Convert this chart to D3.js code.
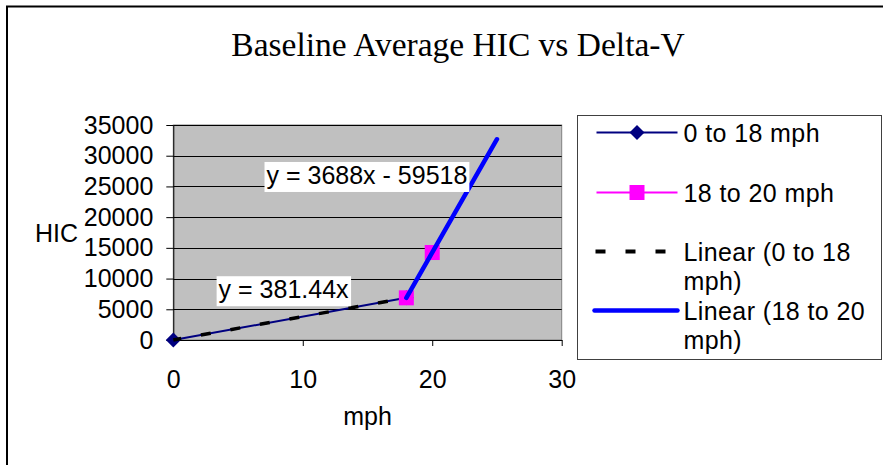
<!DOCTYPE html>
<html>
<head>
<meta charset="utf-8">
<script src="https://cdn.jsdelivr.net/npm/d3@7"></script>
<style>
	body { margin: 0; background: #fff; }
	svg text { font-family: 'Liberation Sans', Arial, sans-serif; fill: #000; }
</style>
</head>
<body>
<div id="my_dataviz"></div>
<script>
// data
const series1Mph = [ 0, 18 ];
const series1Hic = [ 0, 6866 ];
const series2Mph = [ 18, 20 ];
const series2Hic = [ 6866, 14242 ];
const trend1Mph = [ 0, 18 ];
const trend1Hic = [ 0, 6866 ];
const trend2Mph = [ 18, 25 ];
const trend2Hic = [ 6866, 32682 ];
const xTicks = [ 0, 10, 20, 30 ];
const yTicks = [ 0, 5000, 10000, 15000, 20000, 25000, 30000, 35000 ];
const legendLabels = [ [ '0 to 18 mph' ], [ '18 to 20 mph' ], [ 'Linear (0 to 18', 'mph)' ], [ 'Linear (18 to 20', 'mph)' ] ];
const eqLabels = [ 'y = 3688x - 59518', 'y = 381.44x' ];
const eqAnchors = [ [ 7.2, 25400 ], [ 3.5, 6800 ] ];

let dimensions = {
	width  : 883,
	height : 465,
	margin : {
		top    : 125,
		right  : 321.3,
		bottom : 125,
		left   : 173.3
	}
};
dimensions.boundedWidth = dimensions.width - dimensions.margin.left - dimensions.margin.right;
dimensions.boundedHeight = dimensions.height - dimensions.margin.top - dimensions.margin.bottom;

const svg = d3
	.select('#my_dataviz')
	.append('svg')
	.attr('width', dimensions.width)
	.attr('height', dimensions.height);

// chart frame (runs off right/bottom edge)
svg
	.append('rect')
	.attr('x', 7)
	.attr('y', 6.5)
	.attr('width', 900)
	.attr('height', 480)
	.attr('fill', 'none')
	.attr('stroke', '#000')
	.attr('stroke-width', 2);

svg
	.append('text')
	.attr('x', 458)
	.attr('y', 56)
	.attr('text-anchor', 'middle')
	.style('font-family', "'Liberation Serif', 'Times New Roman', serif")
	.style('font-size', '33.5px')
	.text('Baseline Average HIC vs Delta-V');

const bounds = svg
	.append('g')
	.attr('transform', `translate(${dimensions.margin.left}, ${dimensions.margin.top})`);

const x = d3.scaleLinear().domain([ 0, 30 ]).range([ 0, dimensions.boundedWidth ]);
const y = d3.scaleLinear().domain([ 0, 35000 ]).range([ dimensions.boundedHeight, 0 ]);

bounds
	.append('rect')
	.attr('width', dimensions.boundedWidth)
	.attr('height', dimensions.boundedHeight)
	.attr('fill', '#c0c0c0')
	.attr('stroke', '#808080')
	.attr('stroke-width', 1);

// gridlines
bounds
	.selectAll('.grid')
	.data(yTicks.slice(1))
	.enter()
	.append('line')
	.attr('class', 'grid')
	.attr('x1', 0)
	.attr('x2', dimensions.boundedWidth)
	.attr('y1', (d) => Math.round(y(d)) + 0.5)
	.attr('y2', (d) => Math.round(y(d)) + 0.5)
	.attr('stroke', '#000')
	.attr('stroke-width', 1);

// axes
const yAxisGenerator = d3
	.axisLeft(y)
	.tickValues(yTicks)
	.tickFormat(d3.format('d'))
	.tickSizeInner(7)
	.tickSizeOuter(0)
	.tickPadding(13);
const yAxis = bounds.append('g').attr('class', 'y axis').call(yAxisGenerator);
const xAxisGenerator = d3.axisBottom(x).tickValues(xTicks).tickSizeInner(6).tickSizeOuter(0).tickPadding(24);
const xAxis = bounds
	.append('g')
	.attr('class', 'x axis')
	.attr('transform', `translate(0, ${dimensions.boundedHeight})`)
	.call(xAxisGenerator);

[ yAxis, xAxis ].forEach(function(ax) {
	ax.selectAll('path').attr('stroke', '#000');
	ax.selectAll('line').attr('stroke', '#000');
	ax.selectAll('text').style('font-size', '25px').style('font-family', "'Liberation Sans', Arial, sans-serif");
});
xAxis.selectAll('text').attr('dy', '0.71em');

svg.append('text').attr('x', 35).attr('y', 242).style('font-size', '25px').text('HIC');
svg
	.append('text')
	.attr('x', dimensions.margin.left + dimensions.boundedWidth / 2)
	.attr('y', 425)
	.attr('text-anchor', 'middle')
	.style('font-size', '25px')
	.text('mph');

const line = d3.line().x((d) => x(d[0])).y((d) => y(d[1]));
const zipPts = (xs, ys) => xs.map((v, i) => [ v, ys[i] ]);

// series lines + markers
bounds
	.append('path')
	.datum(zipPts(series1Mph, series1Hic))
	.attr('d', line)
	.attr('fill', 'none')
	.attr('stroke', '#000080')
	.attr('stroke-width', 2);
bounds
	.append('path')
	.datum(zipPts(series2Mph, series2Hic))
	.attr('d', line)
	.attr('fill', 'none')
	.attr('stroke', '#ff00ff')
	.attr('stroke-width', 2);

const diamond = d3.symbol().type(d3.symbolSquare).size(112);
bounds
	.selectAll('.s1')
	.data(zipPts(series1Mph, series1Hic))
	.enter()
	.append('path')
	.attr('class', 's1')
	.attr('d', diamond)
	.attr('transform', (d) => `translate(${x(d[0])}, ${y(d[1])}) rotate(45)`)
	.attr('fill', '#000080');

bounds
	.selectAll('.s2')
	.data(zipPts(series2Mph, series2Hic))
	.enter()
	.append('rect')
	.attr('class', 's2')
	.attr('x', (d) => x(d[0]) - 7.5)
	.attr('y', (d) => y(d[1]) - 7.5)
	.attr('width', 15)
	.attr('height', 15)
	.attr('fill', '#ff00ff');

// trendlines
bounds
	.append('path')
	.datum(zipPts(trend1Mph, trend1Hic))
	.attr('d', line)
	.attr('fill', 'none')
	.attr('stroke', '#000')
	.attr('stroke-width', 3.5)
	.attr('stroke-dasharray', '10 20')
	.attr('stroke-dashoffset', 2);
bounds
	.append('path')
	.datum(zipPts(trend2Mph, trend2Hic))
	.attr('d', line)
	.attr('fill', 'none')
	.attr('stroke', '#0000ff')
	.attr('stroke-width', 4.5)
	.attr('stroke-linecap', 'round');

// equation labels
eqLabels.forEach(function(label, i) {
	const g = bounds.append('g');
	const t = g
		.append('text')
		.attr('x', x(eqAnchors[i][0]))
		.attr('y', y(eqAnchors[i][1]))
		.style('font-size', '25px')
		.text(label);
	const bb = t.node().getBBox();
	g
		.insert('rect', 'text')
		.attr('x', bb.x - 2)
		.attr('y', bb.y + 1)
		.attr('width', bb.width + 4)
		.attr('height', bb.height + 2)
		.attr('fill', '#fff');
});

// legend
const legend = svg.append('g').attr('transform', 'translate(577.5, 115.5)');
legend
	.append('rect')
	.attr('width', 304)
	.attr('height', 244)
	.attr('fill', '#fff')
	.attr('stroke', '#404040')
	.attr('stroke-width', 1);

const rowY = [ 17, 77, 136, 195 ];
const lx1 = 19;
const lx2 = 100;

function legendRow(i) {
	return legend.append('g').attr('transform', `translate(0, ${rowY[i]})`);
}

let r = legendRow(0);
r.append('line').attr('x1', lx1).attr('x2', lx2).attr('stroke', '#000080').attr('stroke-width', 2);
r.append('path').attr('d', diamond).attr('transform', `translate(${(lx1 + lx2) / 2}, 0) rotate(45)`).attr('fill', '#000080');
r = legendRow(1);
r.append('line').attr('x1', lx1).attr('x2', lx2).attr('stroke', '#ff00ff').attr('stroke-width', 2);
r.append('rect').attr('x', (lx1 + lx2) / 2 - 7.5).attr('y', -7.5).attr('width', 15).attr('height', 15).attr('fill', '#ff00ff');
r = legendRow(2);
r.append('line').attr('x1', 18).attr('x2', 90).attr('stroke', '#000').attr('stroke-width', 4).attr('stroke-dasharray', '10 20');
r = legendRow(3);
r.append('line').attr('x1', lx1 - 2).attr('x2', lx2).attr('stroke', '#0000ff').attr('stroke-width', 4.5).attr('stroke-linecap', 'round');

legendLabels.forEach(function(lines, i) {
	const t = legend
		.append('text')
		.attr('x', 106)
		.attr('y', rowY[i] + 9)
		.style('font-size', '25px')
		.style('letter-spacing', '0.4px');
	lines.forEach(function(s, j) {
		t.append('tspan').attr('x', 106).attr('dy', j === 0 ? 0 : 29).text(s);
	});
});
</script>
</body>
</html>
